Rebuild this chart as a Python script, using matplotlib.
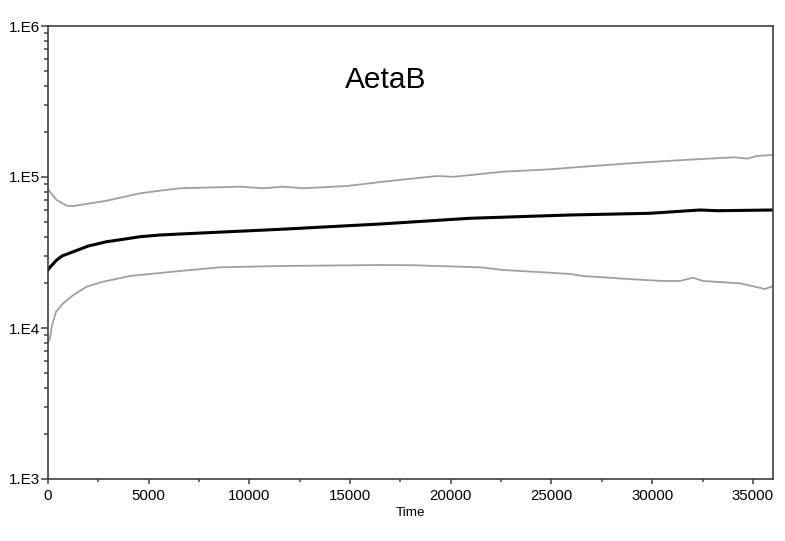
import matplotlib
matplotlib.use("Agg")
import matplotlib.pyplot as plt
from matplotlib.ticker import FixedLocator, FixedFormatter, NullFormatter
import numpy as np

plt.rcParams['font.family'] = ['Liberation Sans', 'DejaVu Sans']

title = "AetaB"
xlabel = "Time"

# upper band (grey)
upper_t = [0, 432, 929, 1256, 2915, 4568, 5561, 6555, 9534, 10676, 11669, 12662,
           14847, 15989, 16485, 19316, 20110, 22593, 24927, 25920, 28899, 31531,
           34113, 34709, 35205, 36000]
upper_v = [82900, 70400, 64530, 64240, 69660, 77980, 81200, 84190, 86270, 84190,
           86270, 84190, 87190, 90860, 92660, 101500, 100300, 108400, 112450,
           115250, 123200, 129600, 135100, 132200, 137800, 139900]

# mean (black)
mean_t = [0, 100, 200, 432, 700, 1256, 2000, 2915, 3500, 4568, 5561, 6555, 11520,
          16485, 20954, 25920, 29892, 32375, 33219, 36000]
mean_v = [24220, 25300, 26130, 28200, 30000, 32010, 34900, 37280, 38260, 40230,
          41290, 41920, 45030, 48830, 53290, 56030, 57500, 60460, 59810, 60460]

# lower band (grey)
lower_t = [0, 99, 184, 397, 760, 1256, 1922, 2746, 4072, 6555, 8541, 11520, 16485,
           18124, 21451, 22593, 24927, 25920, 26565, 29048, 30538, 31382, 32027,
           32524, 34361, 35603, 36000]
lower_v = [8120, 8550, 10200, 12820, 14580, 16540, 18770, 20260, 22100, 23850,
           25230, 25740, 26130, 26050, 25230, 24220, 23240, 22790, 22100, 21010,
           20480, 20480, 21530, 20480, 19770, 18130, 18970]

xticks = [0, 5000, 10000, 15000, 20000, 25000, 30000, 35000]
xtick_labels = ["0", "5000", "10000", "15000", "20000", "25000", "30000", "35000"]
yticks = [1e3, 1e4, 1e5, 1e6]
ytick_labels = ["1.E3", "1.E4", "1.E5", "1.E6"]

fig = plt.figure(figsize=(7.85, 5.41), dpi=100)
ax = fig.add_axes([48/785, 1-479/541, 725/785, 453/541])

ax.plot(upper_t, upper_v, color='#a0a0a0', lw=1.3)
ax.plot(lower_t, lower_v, color='#a0a0a0', lw=1.3)
ax.plot(mean_t, mean_v, color='black', lw=2.2)

ax.set_yscale('log')
ax.set_xlim(0, 36000)
ax.set_ylim(1e3, 1e6)

ax.xaxis.set_major_locator(FixedLocator(xticks))
ax.xaxis.set_major_formatter(FixedFormatter(xtick_labels))
ax.xaxis.set_minor_locator(FixedLocator([2500 + 5000*i for i in range(7)]))
ax.yaxis.set_major_locator(FixedLocator(yticks))
ax.yaxis.set_major_formatter(FixedFormatter(ytick_labels))
minors = [m * 10**e for e in range(3, 6) for m in range(2, 10)]
ax.yaxis.set_minor_locator(FixedLocator(minors))
ax.yaxis.set_minor_formatter(NullFormatter())

for s in ax.spines.values():
    s.set_color('#404040')
    s.set_linewidth(1.2)

ax.tick_params(axis='y', which='major', direction='out', length=5, width=1.1,
               color='#404040', labelsize=11, pad=1)
ax.tick_params(axis='y', which='minor', direction='out', length=3, width=1.1,
               color='#404040')
ax.tick_params(axis='x', which='major', direction='out', length=3.5, width=1.1,
               color='#404040', labelsize=10.8, pad=3.5)
ax.tick_params(axis='x', which='minor', direction='out', length=2.5, width=1.1,
               color='#404040')

ax.set_xlabel(xlabel, fontsize=9.7, labelpad=3)
ax.text(0.4655, 0.863, title, transform=ax.transAxes, ha='center', va='baseline',
        fontsize=21.5)

fig.savefig("out.png", dpi=100)
